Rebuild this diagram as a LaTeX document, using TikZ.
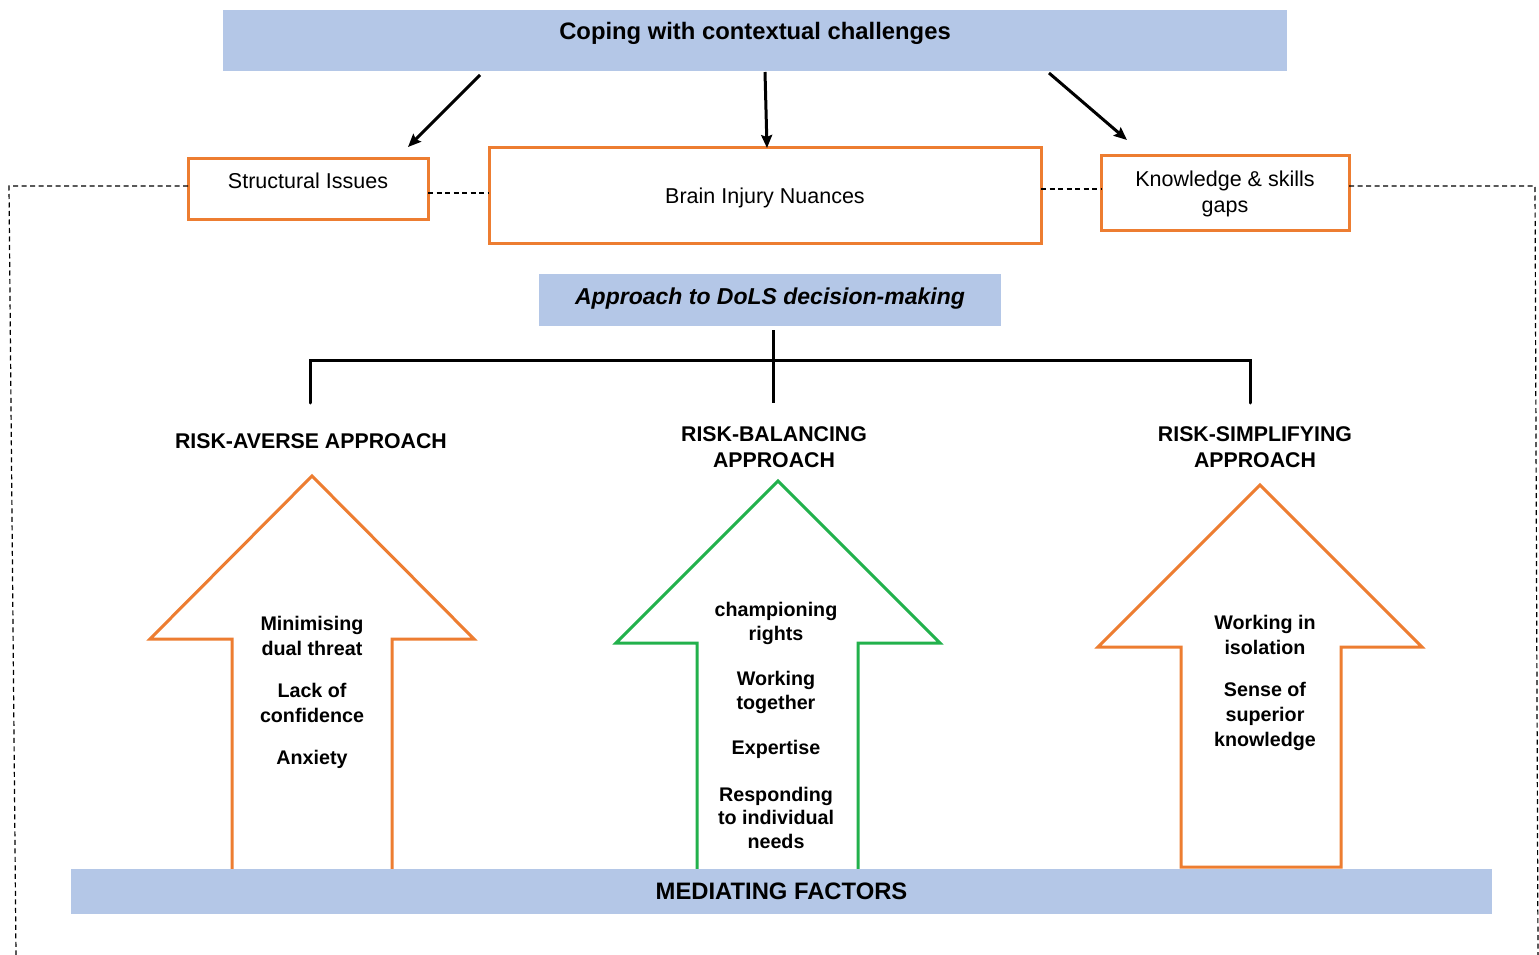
\documentclass[tikz,border=0pt]{standalone}
\usepackage{fontspec}
\setmainfont{Liberation Sans}
\usetikzlibrary{arrows.meta}
\definecolor{boxblue}{HTML}{B4C7E7}
\definecolor{orng}{HTML}{ED7D31}
\definecolor{grn}{HTML}{22B14C}
\begin{document}
\begin{tikzpicture}[x=1pt,y=-1pt,
  bluebar/.style={fill=boxblue,draw=none,inner sep=0pt,outer sep=0pt},
  obox/.style={draw=orng,line width=3pt,fill=white,inner sep=0pt,outer sep=0pt},
  regtxt/.style={font=\fontsize{21.5}{26}\selectfont,align=center,inner sep=0pt},
  headtxt/.style={font=\fontsize{21.3}{26}\bfseries\selectfont,align=center,inner sep=0pt},
  arrtxt/.style={font=\fontsize{19.7}{24.5}\bfseries\selectfont,align=center,inner sep=0pt},
  dashline/.style={line width=1.2pt,dash pattern=on 5pt off 3.5pt},
  conn/.style={line width=3pt,-{Stealth[length=13pt,width=11pt,inset=2pt]}},
  tree/.style={line width=3pt,line cap=round},
  bigarrow/.style={line width=3pt,line join=miter,fill=white}
]
\useasboundingbox (0,0) rectangle (1539,955);
\fill[white] (0,0) rectangle (1539,955);

% title bar
\node[bluebar,minimum width=1064pt,minimum height=61pt] (title) at (755,40.5) {};
\node[font=\fontsize{23.8}{28}\bfseries\selectfont,inner sep=0pt] (titletxt) at (755,33) {Coping with contextual challenges};

% three challenge boxes
\node[obox,minimum width=240pt,minimum height=61pt] (si) at (308,188.5) {};
\node[regtxt] (sitxt) at (308,181) {Structural Issues};
\node[obox,minimum width=552pt,minimum height=95pt] (bi) at (765,195.5) {};
\node[regtxt] (bitxt) at (765,197.5) {Brain Injury Nuances};
\node[obox,minimum width=248pt,minimum height=75pt] (kg) at (1225,192.5) {};
\node[regtxt] (kgtxt) at (1225,193.5) {Knowledge \& skills\\gaps};

% arrows from title
\coordinate (a1s) at (480,75);  \coordinate (a1e) at (408,147);
\coordinate (a2s) at (765,72);  \coordinate (a2e) at (767,148);
\coordinate (a3s) at (1049,73); \coordinate (a3e) at (1127,140);
\draw[conn] (a1s) -- (a1e);
\draw[conn] (a2s) -- (a2e);
\draw[conn] (a3s) -- (a3e);

% dashed outline
\coordinate (lt) at (9,186);  \coordinate (lb) at (16,955);
\coordinate (rt) at (1535,186); \coordinate (rb) at (1538,955);
\draw[dashline] (si.west |- lt) -- (lt) -- (lb);
\draw[dashline] (kg.east |- rt) -- (rt) -- (rb);
\draw[dashline] (si.east |- 0,193) -- (bi.west |- 0,193);
\draw[dashline] (bi.east |- 0,189) -- (kg.west |- 0,189);

% approach box
\node[bluebar,minimum width=462pt,minimum height=52pt] (ap) at (770,300) {};
\node[font=\fontsize{23}{28}\bfseries\itshape\selectfont,inner sep=0pt] (aptxt) at (770,299) {Approach to DoLS decision-making};

% tree
\coordinate (m2) at (773,403);
\coordinate (l1) at (310,360); \coordinate (l2) at (310,403);
\coordinate (r1) at (1250,360); \coordinate (r2) at (1250,403);
\draw[line width=3pt] (773,330) -- (m2);
\draw[tree] (l2) -- (l1) -- (r1) -- (r2);

% approach labels
\node[headtxt] (ra) at (311,441.5) {RISK-AVERSE APPROACH};
\node[headtxt] (rbl) at (774,447.5) {RISK-BALANCING\\APPROACH};
\node[headtxt] (rs) at (1255,447.5) {RISK-SIMPLIFYING\\APPROACH};

% big arrows
\draw[bigarrow,draw=orng] (232,873) -- (232,639) -- (150,639) -- (312,476) -- (474,639) -- (392,639) -- (392,873);
\draw[bigarrow,draw=grn] (697,873) -- (697,643) -- (616,643) -- (778,481) -- (940,643) -- (858,643) -- (858,873);
\draw[bigarrow,draw=orng] (1181,867) -- (1181,647) -- (1098,647) -- (1260,485) -- (1422,647) -- (1341,647) -- (1341,867) -- cycle;

\node[arrtxt] (t1) at (312,692.5) {Minimising\\dual threat\\[18pt]Lack of\\confidence\\[18pt]Anxiety};
\node[arrtxt,font=\fontsize{19.7}{23.5}\bfseries\selectfont] (t2) at (776,725.5) {championing\\rights\\[22pt]Working\\together\\[22pt]Expertise\\[23pt]Responding\\to individual\\needs};
\node[arrtxt,font=\fontsize{19.7}{25}\bfseries\selectfont] (t3) at (1265,682.5) {Working in\\isolation\\[17pt]Sense of\\superior\\knowledge};

% mediating bar
\node[bluebar,minimum width=1421pt,minimum height=45pt] (mf) at (781.5,891.5) {};
\node[font=\fontsize{23.8}{28}\bfseries\selectfont,inner sep=0pt] (mftxt) at (781.5,891) {MEDIATING FACTORS};
\end{tikzpicture}
\end{document}
